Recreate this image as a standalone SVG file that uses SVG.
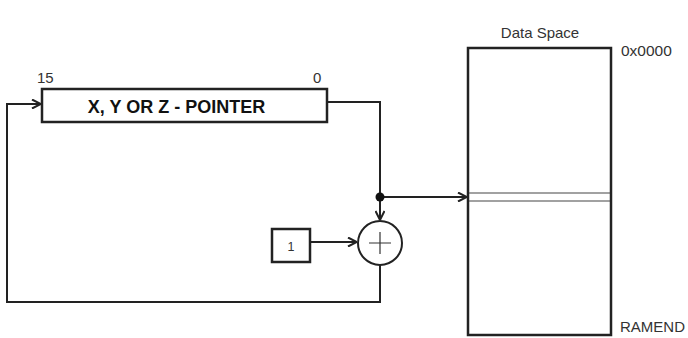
<svg xmlns="http://www.w3.org/2000/svg" width="688" height="338" viewBox="0 0 688 338">
<style>
.box{fill:#fff;stroke:#222;stroke-width:2.5}
.ln{fill:none;stroke:#222;stroke-width:2}
.lbl{font-family:"Liberation Sans",Arial,sans-serif;font-size:15px;fill:#333}
.big{font-family:"Liberation Sans",Arial,sans-serif;font-size:18px;font-weight:bold;fill:#111}
.thin{stroke:#444;stroke-width:1.2}
</style>
<defs>
<marker id="arr" viewBox="0 0 10 10" refX="10" refY="5" markerWidth="10" markerHeight="10" markerUnits="userSpaceOnUse" orient="auto">
<path d="M1,0.5 L10,5 L1,9.5" fill="none" stroke="#222" stroke-width="2"/>
</marker>
</defs>
<rect width="688" height="338" fill="#fff"/>
<g id="connectors">
<path class="ln" d="M380,265 V302 H7 V104 H41" marker-end="url(#arr)"/>
<path class="ln" d="M327,102 H380 V220" marker-end="url(#arr)"/>
<path class="ln" d="M380,197 H467" marker-end="url(#arr)"/>
<path class="ln" d="M310,242 H357" marker-end="url(#arr)"/>
<circle cx="380" cy="197" r="4.5" fill="#111"/>
</g>
<g id="pointer">
<rect class="box" x="42" y="89" width="285" height="33"/>
<text class="big" x="176.5" y="113" text-anchor="middle">X, Y OR Z - POINTER</text>
<text class="lbl" x="37" y="83">15</text>
<text class="lbl" x="313" y="83">0</text>
</g>
<g id="adder">
<circle cx="380" cy="243" r="22" fill="#fff" stroke="#222" stroke-width="2"/>
<path d="M380,232 V254 M369,243 H391" stroke="#333" stroke-width="1.2"/>
</g>
<g id="one">
<rect class="box" x="272" y="229" width="38" height="33"/>
<text class="lbl" x="291" y="251" text-anchor="middle" style="font-size:12.5px">1</text>
</g>
<g id="dataspace">
<rect class="box" x="468" y="48" width="143" height="287"/>
<line class="thin" x1="469" y1="193" x2="610" y2="193"/>
<line class="thin" x1="469" y1="201" x2="610" y2="201"/>
<text class="lbl" x="540" y="38" text-anchor="middle">Data Space</text>
<text class="lbl" x="621" y="56" style="font-size:15.5px">0x0000</text>
<text class="lbl" x="620" y="332">RAMEND</text>
</g>
</svg>
